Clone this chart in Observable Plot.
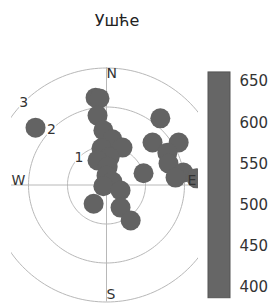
<!DOCTYPE html>
<html>
<head>
<meta charset="utf-8">
<script src="https://cdn.jsdelivr.net/npm/d3@7"></script>
<script src="https://cdn.jsdelivr.net/npm/@observablehq/plot@0.6"></script>
<style>
  html, body { margin: 0; padding: 0; background: #fff; }
  #wrap { position: relative; width: 274px; height: 303px; overflow: hidden; font-family: "DejaVu Sans", sans-serif; }
  #title { position: absolute; left: 0; width: 234px; top: 11px; text-align: center; font-size: 16px; color: #222; line-height: 20px; }
  #main, #bar { position: absolute; top: 0; }
  #main { left: 0; }
  #bar { left: 200px; }
</style>
</head>
<body>
<div id="wrap">
  <div id="main"></div>
  <div id="bar"></div>
  <div id="title"></div>
</div>
<script>
// ---- data ----
const title = "Ушће";
// point positions, east/north components in ring units
const east  = [-1.82, -0.28, -0.18, -0.23, -0.08, 0.15, 0.41, -0.13, 0.08, -0.23, 0.03, 0.00, 0.15, -0.08, 0.36, -0.33, 0.36, 0.62,
               1.38, 1.18, 1.85, 1.56, 1.59, 0.95, 1.97, 1.77, 2.31];
const north = [ 1.47,  2.24,  2.22,  1.78,  1.40, 1.17, 0.96,  0.94, 0.71,  0.63, 0.47, 0.24, 0.09, -0.03, -0.14, -0.48, -0.58, -0.91,
               1.71, 1.09, 1.09, 0.83, 0.55, 0.30, 0.32, 0.19, 0.17];
const ringRadii = [1, 2, 3];
const compassLabels = ["N", "E", "S", "W"];
const colorTicks = [400, 450, 500, 550, 600, 650];
const colorExtent = [387, 661];

const points = east.map((e, i) => ({east: e, north: north[i]}));
const maxR = d3.max(ringRadii);
const rad = Math.PI / 180;
const rings = ringRadii.flatMap(k => d3.range(0, 361, 2).map(a => ({k, x: k * Math.sin(a * rad), y: k * Math.cos(a * rad)})));
const ringLabels = ringRadii.map(k => ({k, x: k * Math.sin(-45 * rad), y: k * Math.cos(-45 * rad)}));
const sideR = 2.08;

document.getElementById("title").textContent = title;

const grid = "#b8b8b8";
const txt = "#333";

const main = Plot.plot({
  width: 274, height: 303,
  marginLeft: 11, marginRight: 76, marginTop: 0, marginBottom: 0,
  style: {fontFamily: "DejaVu Sans, sans-serif", background: "transparent"},
  x: {domain: [-maxR, maxR], range: [-11, 223], axis: null},
  y: {domain: [-maxR, maxR], range: [301.5, 67.5], axis: null},
  marks: [
    Plot.line(rings, {x: "x", y: "y", z: "k", stroke: grid, strokeWidth: 1, clip: true}),
    Plot.ruleY([0], {x1: -maxR, x2: maxR, stroke: grid, strokeWidth: 1, clip: true}),
    Plot.ruleX([0], {y1: -maxR, y2: maxR, stroke: grid, strokeWidth: 1, clip: true}),
    Plot.dot(points, {x: "east", y: "north", r: 10, fill: "#636363", stroke: "none", clip: true}),
    Plot.text(ringLabels, {x: "x", y: "y", text: d => String(d.k), fontSize: 14, fill: txt, stroke: "white", strokeWidth: 3, textAnchor: "middle", lineAnchor: "middle"}),
    Plot.text([compassLabels[0]], {x: 0, y: maxR, fontSize: 14, fill: txt, textAnchor: "start", lineAnchor: "top"}),
    Plot.text([compassLabels[2]], {x: 0, y: -maxR, dy: -3, fontSize: 14, fill: txt, textAnchor: "start", lineAnchor: "bottom"}),
    Plot.text([compassLabels[1]], {x: sideR, y: 0, fontSize: 14, fill: txt, textAnchor: "start", lineAnchor: "bottom"}),
    Plot.text([compassLabels[3]], {x: -sideR, y: 0, fontSize: 14, fill: txt, textAnchor: "end", lineAnchor: "bottom"})
  ]
});
document.getElementById("main").appendChild(main);

const bar = Plot.plot({
  width: 74, height: 303,
  marginLeft: 8, marginRight: 44, marginTop: 0, marginBottom: 0,
  style: {fontFamily: "DejaVu Sans, sans-serif", background: "transparent"},
  x: {axis: null},
  y: {domain: [400, 650], range: [287, 81], axis: null},
  marks: [
    Plot.rect([colorExtent], {y1: d => d[0], y2: d => d[1], fill: "#666", stroke: "#555", strokeWidth: 1}),
    Plot.axisY(colorTicks, {anchor: "right", tickSize: 0, tickPadding: 9, fontSize: 15, color: txt, tickFormat: d => String(d)})
  ]
});
document.getElementById("bar").appendChild(bar);
</script>
</body>
</html>
